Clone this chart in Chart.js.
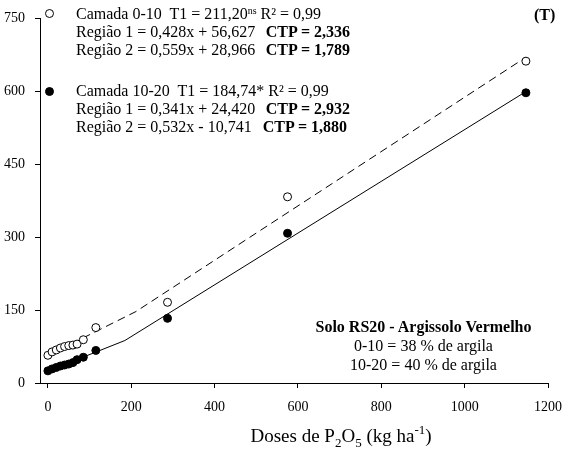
<!DOCTYPE html>
<html>
<head>
<meta charset="utf-8">
<script src="https://cdn.jsdelivr.net/npm/chart.js@4"></script>
<style>
    body { margin: 0; background: #fff; }
    #wrap { position: relative; width: 573px; height: 461px; font-family: "Liberation Serif", "Times New Roman", serif; color: #000; }
    #wrap canvas { position: absolute; left: 0; top: 0; }
    .note { position: absolute; font-size: 16px; line-height: 18px; white-space: pre; }
    .note sup { font-size: 10px; vertical-align: 5px; line-height: 0; }
    .ctp { position: absolute; width: 110px; text-align: right; font-size: 16px; line-height: 18px; font-weight: bold; white-space: pre; }
    .mark { position: absolute; width: 7px; height: 7px; border: 1px solid #000; border-radius: 50%; background: #fff; }
    .mark.full { background: #000; }
    #soil { position: absolute; left: 290px; top: 317px; width: 267px; text-align: center; font-size: 16px; line-height: 19px; white-space: pre; }
    #xtitle { position: absolute; left: 221px; top: 424px; width: 240px; text-align: center; font-size: 19px; line-height: 24px; white-space: nowrap; }
    #xtitle sub { font-size: 13px; vertical-align: -5px; line-height: 0; }
    #xtitle sup { font-size: 13px; vertical-align: 8px; line-height: 0; }
</style>
</head>
<body>
<div id="wrap">
    <canvas id="chart" width="573" height="461"></canvas>

    <!-- block 0-10 -->
    <span class="mark" style="left:45px; top:9px;"></span>
    <div class="note" style="left:76px; top:5px;">Camada 0-10  T1 = 211,20<sup>ns</sup> R² = 0,99</div>
    <div class="note" style="left:76px; top:23px;">Região 1 = 0,428x + 56,627</div>
    <div class="ctp" style="left:240px; top:23px;">CTP = 2,336</div>
    <div class="note" style="left:76px; top:41px;">Região 2 = 0,559x + 28,966</div>
    <div class="ctp" style="left:240px; top:41px;">CTP = 1,789</div>

    <!-- block 10-20 -->
    <span class="mark full" style="left:45px; top:87px;"></span>
    <div class="note" style="left:76px; top:82px;">Camada 10-20  T1 = 184,74* R² = 0,99</div>
    <div class="note" style="left:76px; top:100px;">Região 1 = 0,341x + 24,420</div>
    <div class="ctp" style="left:240px; top:100px;">CTP = 2,932</div>
    <div class="note" style="left:76px; top:118px;">Região 2 = 0,532x - 10,741</div>
    <div class="ctp" style="left:237px; top:118px;">CTP = 1,880</div>

    <div class="note" style="left:534px; top:6px; font-weight:bold;">(T)</div>

    <div id="soil"><b>Solo RS20 - Argissolo Vermelho</b>
0-10 = 38 % de argila
10-20 = 40 % de argila</div>

    <div id="xtitle">Doses de P<sub>2</sub>O<sub>5</sub> (kg ha<sup>-1</sup>)</div>
</div>

<script>
// doses of P2O5 (kg/ha)
const doses = [0, 10, 20, 30, 40, 50, 60, 70, 85, 115, 287, 575, 1147];

// layer 0-10 cm (open circles)
const layer010 = [57, 64, 68, 72, 75, 77, 78, 80, 89, 114, 166, 383, 662];
// layer 10-20 cm (filled circles)
const layer1020 = [25, 29, 32, 35, 37, 39, 42, 48, 53, 67, 133, 308, 597];

// fitted segmented lines (breakpoint at T1)
const fit010X = [0, 211.2, 1147];
const fit010Y = [56.6, 147.0, 670.1];
const fit1020X = [0, 184.74, 1147];
const fit1020Y = [24.4, 87.4, 599.5];

// axis ticks
const xTicks = [0, 200, 400, 600, 800, 1000, 1200];
const yTicks = [0, 150, 300, 450, 600, 750];

function toPoints(xs, ys) {
    return xs.map((x, i) => ({ x: x, y: ys[i] }));
}

const tickFont = { family: 'Liberation Serif', size: 14 };

const ctx = document.getElementById('chart').getContext('2d');

const myChart = new Chart(ctx, {
    type: 'scatter',
    data: {
        datasets: [
            {
                label: 'Camada 0-10',
                data: toPoints(doses, layer010),
                pointRadius: 4,
                pointStyle: 'circle',
                backgroundColor: '#ffffff',
                borderColor: '#000000',
                borderWidth: 1,
                order: 0
            },
            {
                label: 'Camada 10-20',
                data: toPoints(doses, layer1020),
                pointRadius: 4,
                pointStyle: 'circle',
                backgroundColor: '#000000',
                borderColor: '#000000',
                borderWidth: 1,
                order: 0
            },
            {
                label: 'Ajuste 0-10',
                data: toPoints(fit010X, fit010Y),
                showLine: true,
                pointRadius: 0,
                borderColor: '#000000',
                borderWidth: 1,
                borderDash: [8, 5],
                fill: false,
                order: 1
            },
            {
                label: 'Ajuste 10-20',
                data: toPoints(fit1020X, fit1020Y),
                showLine: true,
                pointRadius: 0,
                borderColor: '#000000',
                borderWidth: 1,
                fill: false,
                order: 1
            }
        ]
    },
    options: {
        responsive: false,
        animation: false,
        layout: {
            padding: { left: 0, right: 21, top: 9, bottom: 0 }
        },
        plugins: {
            legend: { display: false },
            tooltip: { enabled: false }
        },
        scales: {
            x: {
                type: 'linear',
                min: -19,
                max: 1200,
                afterBuildTicks: (scale) => {
                    scale.ticks = xTicks.map(v => ({ value: v }));
                },
                afterFit: (scale) => { scale.height = 78; },
                grid: {
                    drawOnChartArea: false,
                    drawTicks: true,
                    tickLength: 5,
                    color: '#000000'
                },
                border: { display: true, color: '#000000', width: 1 },
                ticks: {
                    color: '#000000',
                    font: tickFont,
                    padding: 11,
                    maxRotation: 0,
                    callback: (value) => String(value)
                }
            },
            y: {
                type: 'linear',
                min: 0,
                max: 750,
                afterBuildTicks: (scale) => {
                    scale.ticks = yTicks.map(v => ({ value: v }));
                },
                afterFit: (scale) => { scale.width = 40; },
                grid: {
                    drawOnChartArea: false,
                    drawTicks: true,
                    tickLength: 5,
                    color: '#000000'
                },
                border: { display: true, color: '#000000', width: 1 },
                ticks: {
                    color: '#000000',
                    font: tickFont,
                    padding: 10,
                    callback: (value) => String(value)
                }
            }
        }
    }
});
</script>
</body>
</html>
